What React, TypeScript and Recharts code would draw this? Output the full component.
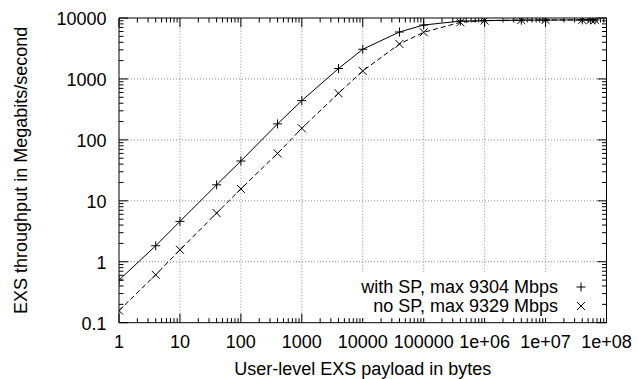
import React from 'react';
import { ComposedChart, Line, XAxis, YAxis, ReferenceLine, Legend } from 'recharts';

// payload sizes (bytes) and measured throughput (Mbit/s)
const payloadBytes = [1, 4, 10, 40, 100, 400, 1000, 4000, 10000, 40000, 100000, 400000, 1000000, 4000000, 10000000, 40000000, 55000000, 65000000];
const withSP = [0.5, 1.83, 4.6, 18.3, 45, 183, 441, 1480, 3070, 5890, 7670, 8900, 9050, 9200, 9250, 9280, 9295, 9304];
const noSP = [0.158, 0.61, 1.57, 6.3, 15.7, 60, 155, 583, 1350, 3750, 5830, 8500, 9100, 9250, 9300, 9315, 9325, 9329];

const xMajor = [1, 10, 100, 1000, 10000, 100000, 1e6, 1e7, 1e8];
const xLabels = ['1', '10', '100', '1000', '10000', '100000', '1e+06', '1e+07', '1e+08'];
const yMajor = [0.1, 1, 10, 100, 1000, 10000];
const yLabels = ['0.1', '1', '10', '100', '1000', '10000'];

const seriesNames = ['with SP, max 9304 Mbps', 'no SP, max 9329 Mbps'];
const xTitle = 'User-level EXS payload in bytes';
const yTitle = 'EXS throughput in Megabits/second';

const FONT = '"Liberation Sans", Arial, Helvetica, sans-serif';

const rows = payloadBytes.map((b, i) => ({ bytes: b, withSP: withSP[i], noSP: noSP[i] }));

// log ticks: majors plus 2..9 minors in each decade
const withMinor = (major: number[]) =>
  major.flatMap((m, i) =>
    i === major.length - 1 ? [m] : [m, ...[2, 3, 4, 5, 6, 7, 8, 9].map((k) => +(m * k).toPrecision(6))]
  );
const xTicks = withMinor(xMajor);
const yTicks = withMinor(yMajor);

const len = (v: number, major: number[]) => (major.includes(v) ? 9 : 4.5);

const BottomTick = ({ x, y, payload }: any) => {
  const i = xMajor.indexOf(payload.value);
  return (
    <g>
      <line x1={x} x2={x} y1={y} y2={y - len(payload.value, xMajor)} stroke="#000" />
      {i >= 0 && (
        <text x={x} y={y + 25.5} textAnchor="middle" fontSize={18} fontFamily={FONT} fill="#000">
          {xLabels[i]}
        </text>
      )}
    </g>
  );
};

const TopTick = ({ x, y, payload }: any) => (
  <line x1={x} x2={x} y1={y} y2={y + len(payload.value, xMajor)} stroke="#000" />
);

const LeftTick = ({ x, y, payload }: any) => {
  const i = yMajor.indexOf(payload.value);
  return (
    <g>
      <line x1={x} x2={x + len(payload.value, yMajor)} y1={y} y2={y} stroke="#000" />
      {i >= 0 && (
        <text x={x - 12.5} y={y + 7} textAnchor="end" fontSize={18} fontFamily={FONT} fill="#000">
          {yLabels[i]}
        </text>
      )}
    </g>
  );
};

const RightTick = ({ x, y, payload }: any) => (
  <line x1={x} x2={x - len(payload.value, yMajor)} y1={y} y2={y} stroke="#000" />
);

const PlusDot = ({ cx, cy }: any) =>
  cx == null ? null : <path d={`M${cx - 4.5},${cy}h9M${cx},${cy - 4.5}v9`} stroke="#000" fill="none" />;

const CrossDot = ({ cx, cy }: any) =>
  cx == null ? null : <path d={`M${cx - 4},${cy - 4}l8,8M${cx - 4},${cy + 4}l8,-8`} stroke="#000" fill="none" />;

const KeyBox = () => (
  <svg width={241} height={45} style={{ display: 'block', background: '#fff' }}>
    <text x={203} y={20.3} textAnchor="end" fontSize={18} fontFamily={FONT} fill="#000">{seriesNames[0]}</text>
    <PlusDot cx={226} cy={14} />
    <text x={203} y={39.3} textAnchor="end" fontSize={18} fontFamily={FONT} fill="#000">{seriesNames[1]}</text>
    <CrossDot cx={226} cy={33} />
  </svg>
);

export default function App() {
  return (
    <div style={{ position: 'absolute', left: 0, top: 0, width: 638, height: 379, background: '#fff' }}>
      <ComposedChart width={638} height={379} data={rows} margin={{ top: 0, right: 0, bottom: 0, left: 0 }}>
        <XAxis
          dataKey="bytes"
          type="number"
          scale="log"
          domain={[1, 1e8]}
          allowDataOverflow
          ticks={xTicks}
          interval={0}
          tickSize={0}
          tickMargin={0}
          tick={BottomTick}
          height={56.3}
          axisLine={{ stroke: '#000' }}
          label={{
            content: ({ viewBox }: any) => (
              <text x={viewBox.x + viewBox.width / 2} y={viewBox.y + 52.3} textAnchor="middle" fontSize={18} fontFamily={FONT} fill="#000">
                {xTitle}
              </text>
            ),
          }}
        />
        <XAxis
          xAxisId="top"
          orientation="top"
          dataKey="bytes"
          type="number"
          scale="log"
          domain={[1, 1e8]}
          allowDataOverflow
          ticks={xTicks}
          interval={0}
          tickSize={0}
          tickMargin={0}
          tick={TopTick}
          height={18}
          axisLine={{ stroke: '#000' }}
        />
        <YAxis
          type="number"
          scale="log"
          domain={[0.1, 10000]}
          allowDataOverflow
          ticks={yTicks}
          interval={0}
          tickSize={0}
          tickMargin={0}
          tick={LeftTick}
          width={119}
          axisLine={{ stroke: '#000' }}
          label={{
            content: ({ viewBox }: any) => (
              <text
                transform={`translate(26.5, ${viewBox.y + viewBox.height / 2}) rotate(-90)`}
                textAnchor="middle"
                fontSize={18}
                fontFamily={FONT}
                fill="#000"
              >
                {yTitle}
              </text>
            ),
          }}
        />
        <YAxis
          yAxisId="right"
          orientation="right"
          type="number"
          scale="log"
          domain={[0.1, 10000]}
          allowDataOverflow
          ticks={yTicks}
          interval={0}
          tickSize={0}
          tickMargin={0}
          tick={RightTick}
          width={31.5}
          axisLine={{ stroke: '#000' }}
        />
        {xMajor.slice(1, -1).map((v) => (
          <ReferenceLine key={`gx${v}`} x={v} stroke="#888" strokeDasharray="1 2" />
        ))}
        {yMajor.slice(1, -1).map((v) => (
          <ReferenceLine key={`gy${v}`} y={v} stroke="#888" strokeDasharray="1 2" />
        ))}
        <Legend
          layout="horizontal"
          verticalAlign="middle"
          align="center"
          content={KeyBox}
          wrapperStyle={{ left: 355, top: 273, width: 241, height: 45 }}
        />
        <Line
          dataKey="withSP"
          name={seriesNames[0]}
          stroke="#000"
          strokeWidth={1}
          dot={PlusDot}
          activeDot={false}
          isAnimationActive={false}
        />
        <Line
          dataKey="noSP"
          name={seriesNames[1]}
          stroke="#000"
          strokeWidth={1}
          strokeDasharray="5 3"
          dot={CrossDot}
          activeDot={false}
          isAnimationActive={false}
        />
      </ComposedChart>
    </div>
  );
}
